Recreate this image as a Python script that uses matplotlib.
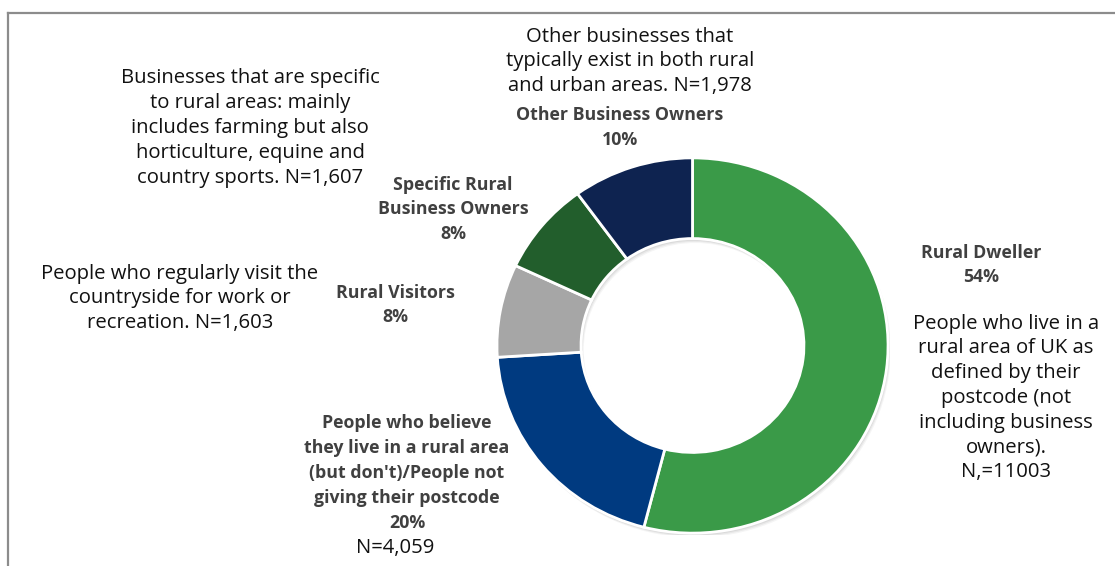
import matplotlib
matplotlib.use("Agg")
import matplotlib.pyplot as plt
from matplotlib.lines import Line2D
from matplotlib.patches import Wedge

plt.rcParams['font.family'] = ['Open Sans', 'DejaVu Sans']

# Segments, clockwise from 12 o'clock
segments = ["Rural Dweller",
            "People who believe they live in a rural area (but don't)/People not giving their postcode",
            "Rural Visitors",
            "Specific Rural Business Owners",
            "Other Business Owners"]
shares = [54, 20, 8, 8, 10]
colors = ["#3A9A48", "#003A80", "#A6A6A6", "#225E2C", "#0E2350"]

# Bold category labels (line breaks as set on the chart)
label_lines = [
    ["Rural Dweller"],
    ["People who believe", "they live in a rural area", "(but don't)/People not", "giving their postcode"],
    ["Rural Visitors"],
    ["Specific Rural", "Business Owners"],
    ["Other Business Owners"],
]
# Descriptions with sample sizes
desc_lines = [
    ["People who live in a", "rural area of UK as", "defined by their", "postcode (not",
     "including business", "owners).", "N,=11003"],
    ["N=4,059"],
    ["People who regularly visit the", "countryside for work or", "recreation. N=1,603"],
    ["Businesses that are specific", "to rural areas: mainly", "includes farming but also",
     "horticulture, equine and", "country sports. N=1,607"],
    ["Other businesses that", "typically exist in both rural", "and urban areas. N=1,978"],
]

W, H = 1115, 566
fig = plt.figure(figsize=(W / 100, H / 100), dpi=100)
fig.patch.set_facecolor("white")

# Frame lines along the top and left edges
fig.add_artist(Line2D([8 / W, 1], [1 - 13 / H, 1 - 13 / H], color="#8C8C8C", lw=1.6))
fig.add_artist(Line2D([8 / W, 8 / W], [1 - 13 / H, 0], color="#8C8C8C", lw=1.6))

# Donut
x0, x1, y0, y1 = 495, 890, 156, 535
ax = fig.add_axes([x0 / W, 1 - y1 / H, (x1 - x0) / W, (y1 - y0) / H])

# soft drop shadow
for i, a in enumerate([0.06, 0.05, 0.04]):
    ax.add_patch(Wedge((0.006 + 0.004 * i, -0.012 - 0.006 * i), 1.0, 0, 360, width=0.43,
                       facecolor="#000000", alpha=a, lw=0))

wedges, _ = ax.pie(shares, colors=colors, startangle=90, counterclock=False, radius=1.0,
                   wedgeprops=dict(width=0.43, edgecolor="white", linewidth=2))
ax.set_aspect("auto")
ax.set_xlim(-1.01, 1.01)
ax.set_ylim(-1.01, 1.01)
ax.axis("off")


def put_lines(lines, cx, y_first, step, **kw):
    for k, s in enumerate(lines):
        fig.text(cx / W, 1 - (y_first + 1.5 + k * step) / H, s, ha="center", va="center", **kw)


bold_kw = dict(fontsize=12.8, fontweight="bold", color="#404040")
reg_kw = dict(fontsize=14.6, color="#111111")
step = 24.8

# Rural Dweller
put_lines(label_lines[0] + [f"{shares[0]}%"], 981, 251, step, **bold_kw)
put_lines(desc_lines[0], 1006, 322, step, **reg_kw)

# Believers / no postcode
put_lines(label_lines[1] + [f"{shares[1]}%"], 407, 422, step, **bold_kw)
put_lines(desc_lines[1], 395, 546, step, **reg_kw)

# Rural Visitors
put_lines(label_lines[2] + [f"{shares[2]}%"], 395, 291, step, **bold_kw)
put_lines(desc_lines[2], 180, 272, step, **reg_kw)

# Specific Rural Business Owners
put_lines(label_lines[3] + [f"{shares[3]}%"], 453, 183, step, **bold_kw)
put_lines(desc_lines[3], 250, 77, step, **reg_kw)

# Other Business Owners
put_lines(label_lines[4] + [f"{shares[4]}%"], 620, 114, step, **bold_kw)
put_lines(desc_lines[4], 630, 35, step, **reg_kw)

fig.savefig("out.png", dpi=100, facecolor="white")
